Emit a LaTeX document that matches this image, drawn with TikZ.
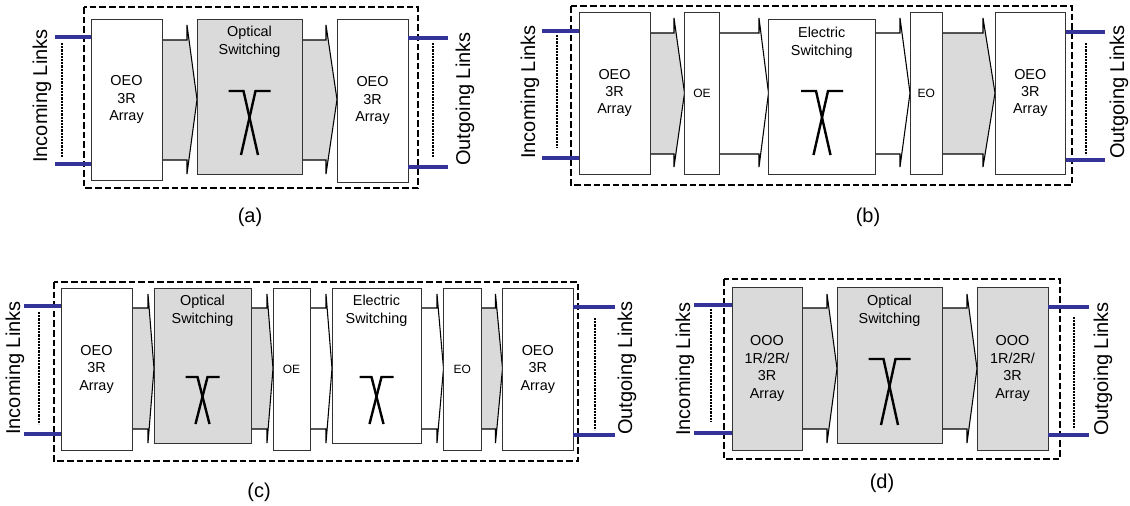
\documentclass[tikz,border=0pt]{standalone}
\usepackage{fontspec}
\setmainfont{Liberation Sans}
\usetikzlibrary{fit,backgrounds}
\definecolor{gr}{HTML}{DADADA}
\definecolor{linkblue}{HTML}{333399}
\tikzset{
  blk/.style={draw=black!80, line width=0.7pt, inner sep=0pt, outer sep=0pt},
  arr/.style={draw=black, line width=0.8pt, line join=miter},
  linkline/.style={draw=linkblue, line width=2.4pt},
  dots/.style={draw=black, line width=0.9pt, dash pattern=on 1.6pt off 0.8pt},
  frame/.style={draw=black, line width=1.2pt, dash pattern=on 5pt off 2.2pt},
  sw/.style={draw=black, line width=1.8pt, line join=miter},
  btxt/.style={font=\fontsize{10.8}{13.1}\selectfont, align=center, inner sep=0pt},
  stxt/.style={font=\fontsize{9}{11}\selectfont, inner sep=0pt},
  side/.style={font=\fontsize{15}{18}\selectfont, rotate=90, inner sep=0pt},
  caplabel/.style={font=\fontsize{15}{18}\selectfont, inner sep=0pt}
}
% block arrow: left node, right node, x head base, body top, body bottom, head top, head bottom, tip y, fill
\newcommand\blockarrow[9]{%
  \begin{pgfonlayer}{background}
  \fill[#9] (#1.east |- 0,#4) -- (#3,#4) -- (#3,#6) -- (#2.west |- 0,#8) -- (#3,#7) -- (#3,#5) -- (#1.east |- 0,#5) -- cycle;
  \draw[arr] (#1.east |- 0,#4) -- (#3,#4) -- (#3,#6) -- (#2.west |- 0,#8) -- (#3,#7) -- (#3,#5) -- (#1.east |- 0,#5);
  \end{pgfonlayer}
}
% switch symbol: center x, top y, bottom y, outer, inner, bottom offset
\newcommand\switchsym[6]{%
  \draw[sw] ({#1-#4},#2) -- ({#1-#5},#2) -- ({#1+#6},#3);
  \draw[sw] ({#1+#4},#2) -- ({#1+#5},#2) -- ({#1-#6},#3);
}
\begin{document}
\begin{tikzpicture}[x=0.75pt,y=-0.75pt]
\useasboundingbox (0,0) rectangle (1130,506);

%================ (a) ================
\draw[frame] (84,7) rectangle (418,188);
\coordinate (ai1) at (55,37);
\coordinate (ai2) at (55,164);
\coordinate (ao1) at (448,38);
\coordinate (ao2) at (448,167);
\node[blk, fill=white, fit={(91,19) (162,180)}] (a1) {};
\node[blk, fill=gr, fit={(197,19) (302,174)}] (a2) {};
\node[blk, fill=white, fit={(337,19) (408,182)}] (a3) {};
\blockarrow{a1}{a2}{187}{40}{160}{25}{174}{99.5}{gr}
\blockarrow{a2}{a3}{326}{40}{160}{25}{174}{99.5}{gr}
\node[btxt] at (a1.center) {OEO\\3R\\Array};
\node[btxt] at (a2.center |- 0,42) {Optical\\Switching};
\node[btxt] at (a3.center) {OEO\\3R\\Array};
\switchsym{249.5}{91}{155}{21}{6}{8.5}
\draw[linkline] (ai1) -- (a1.west |- ai1);
\draw[linkline] (ai2) -- (a1.west |- ai2);
\draw[linkline] (a3.east |- ao1) -- (ao1);
\draw[linkline] (a3.east |- ao2) -- (ao2);
\draw[dots] (62,43) -- (62,157);
\draw[dots] (433,43) -- (433,157);
\node[side] (ainl) at (42,96) {Incoming Links};
\node[side] (aoutl) at (465,99) {Outgoing Links};
\node[caplabel] (acap) at (250,217) {(a)};

%================ (b) ================
\draw[frame] (571,6) rectangle (1072,185);
\coordinate (bi1) at (542,31);
\coordinate (bi2) at (542,158);
\coordinate (bo1) at (1105,32);
\coordinate (bo2) at (1105,160);
\node[blk, fill=white, fit={(579,12) (650,174)}] (b1) {};
\node[blk, fill=white, fit={(684.5,12) (719.5,174)}] (b2) {};
\node[blk, fill=white, fit={(768.5,19) (875,174)}] (b3) {};
\node[blk, fill=white, fit={(910,12) (942.5,174)}] (b4) {};
\node[blk, fill=white, fit={(995,12) (1065.5,174)}] (b5) {};
\blockarrow{b1}{b2}{674}{33}{154}{18}{167}{93}{gr}
\blockarrow{b2}{b3}{759}{33}{154}{18}{167}{93}{white}
\blockarrow{b3}{b4}{900}{33}{154}{18}{167}{93}{white}
\blockarrow{b4}{b5}{983}{33}{154}{18}{167}{93}{gr}
\node[btxt] at (b1.center) {OEO\\3R\\Array};
\node[stxt] at (b2.center) {OE};
\node[btxt] at (b3.center |- 0,43) {Electric\\Switching};
\node[stxt] at (b4.center) {EO};
\node[btxt] at (b5.center) {OEO\\3R\\Array};
\switchsym{822}{91}{155}{21}{6}{8.5}
\draw[linkline] (bi1) -- (b1.west |- bi1);
\draw[linkline] (bi2) -- (b1.west |- bi2);
\draw[linkline] (b5.east |- bo1) -- (bo1);
\draw[linkline] (b5.east |- bo2) -- (bo2);
\draw[dots] (557,35) -- (557,148);
\draw[dots] (1086,43) -- (1086,155);
\node[side] (binl) at (530,92) {Incoming Links};
\node[side] (boutl) at (1119,92) {Outgoing Links};
\node[caplabel] (bcap) at (868,217) {(b)};

%================ (c) ================
\draw[frame] (54,282) rectangle (578,461);
\coordinate (ci1) at (24,306);
\coordinate (ci2) at (24,434);
\coordinate (co1) at (615,307);
\coordinate (co2) at (615,435);
\node[blk, fill=white, fit={(61,288) (132,450)}] (c1) {};
\node[blk, fill=gr, fit={(154,288) (251,443)}] (c2) {};
\node[blk, fill=white, fit={(273,288) (310,450)}] (c3) {};
\node[blk, fill=white, fit={(332,288) (421,443)}] (c4) {};
\node[blk, fill=white, fit={(443.5,288) (481,450)}] (c5) {};
\node[blk, fill=white, fit={(502.5,288) (573,450)}] (c6) {};
\blockarrow{c1}{c2}{148}{308}{429}{294}{443}{368.5}{gr}
\blockarrow{c2}{c3}{267}{308}{429}{294}{443}{368.5}{gr}
\blockarrow{c3}{c4}{326}{308}{429}{294}{443}{368.5}{white}
\blockarrow{c4}{c5}{437}{308}{429}{294}{443}{368.5}{white}
\blockarrow{c5}{c6}{495.5}{308}{429}{294}{443}{368.5}{gr}
\node[btxt] at (c1.center) {OEO\\3R\\Array};
\node[btxt] at (c2.center |- 0,311) {Optical\\Switching};
\node[stxt] at (c3.center) {OE};
\node[btxt] at (c4.center |- 0,311) {Electric\\Switching};
\node[stxt] at (c5.center) {EO};
\node[btxt] at (c6.center) {OEO\\3R\\Array};
\switchsym{202.5}{377}{424}{17}{5}{7}
\switchsym{376.5}{377}{424}{17}{5}{7}
\draw[linkline] (ci1) -- (c1.west |- ci1);
\draw[linkline] (ci2) -- (c1.west |- ci2);
\draw[linkline] (c6.east |- co1) -- (co1);
\draw[linkline] (c6.east |- co2) -- (co2);
\draw[dots] (39,312) -- (39,424);
\draw[dots] (595,318) -- (595,430);
\node[side] (cinl) at (15,368) {Incoming Links};
\node[side] (coutl) at (627,368) {Outgoing Links};
\node[caplabel] (ccap) at (259,492) {(c)};

%================ (d) ================
\draw[frame] (724,279) rectangle (1060,459);
\coordinate (di1) at (694,305);
\coordinate (di2) at (694,433);
\coordinate (do1) at (1089,307);
\coordinate (do2) at (1089,435);
\node[blk, fill=gr, fit={(732,287) (802,450)}] (d1) {};
\node[blk, fill=gr, fit={(837,287) (942,443)}] (d2) {};
\node[blk, fill=gr, fit={(977,287) (1048,450)}] (d3) {};
\blockarrow{d1}{d2}{827}{308}{429}{294}{443}{368.5}{gr}
\blockarrow{d2}{d3}{967}{308}{429}{294}{443}{368.5}{gr}
\node[btxt] at (d1.center) {OOO\\1R/2R/\\3R\\Array};
\node[btxt] at (d2.center |- 0,311) {Optical\\Switching};
\node[btxt] at (d3.center) {OOO\\1R/2R/\\3R\\Array};
\switchsym{889.5}{359}{425}{21}{6}{8.5}
\draw[linkline] (di1) -- (d1.west |- di1);
\draw[linkline] (di2) -- (d1.west |- di2);
\draw[linkline] (d3.east |- do1) -- (do1);
\draw[linkline] (d3.east |- do2) -- (do2);
\draw[dots] (711,309) -- (711,422);
\draw[dots] (1074,317) -- (1074,429);
\node[side] (dinl) at (685,369) {Incoming Links};
\node[side] (doutl) at (1103,369) {Outgoing Links};
\node[caplabel] (dcap) at (882,483) {(d)};
\end{tikzpicture}
\end{document}
